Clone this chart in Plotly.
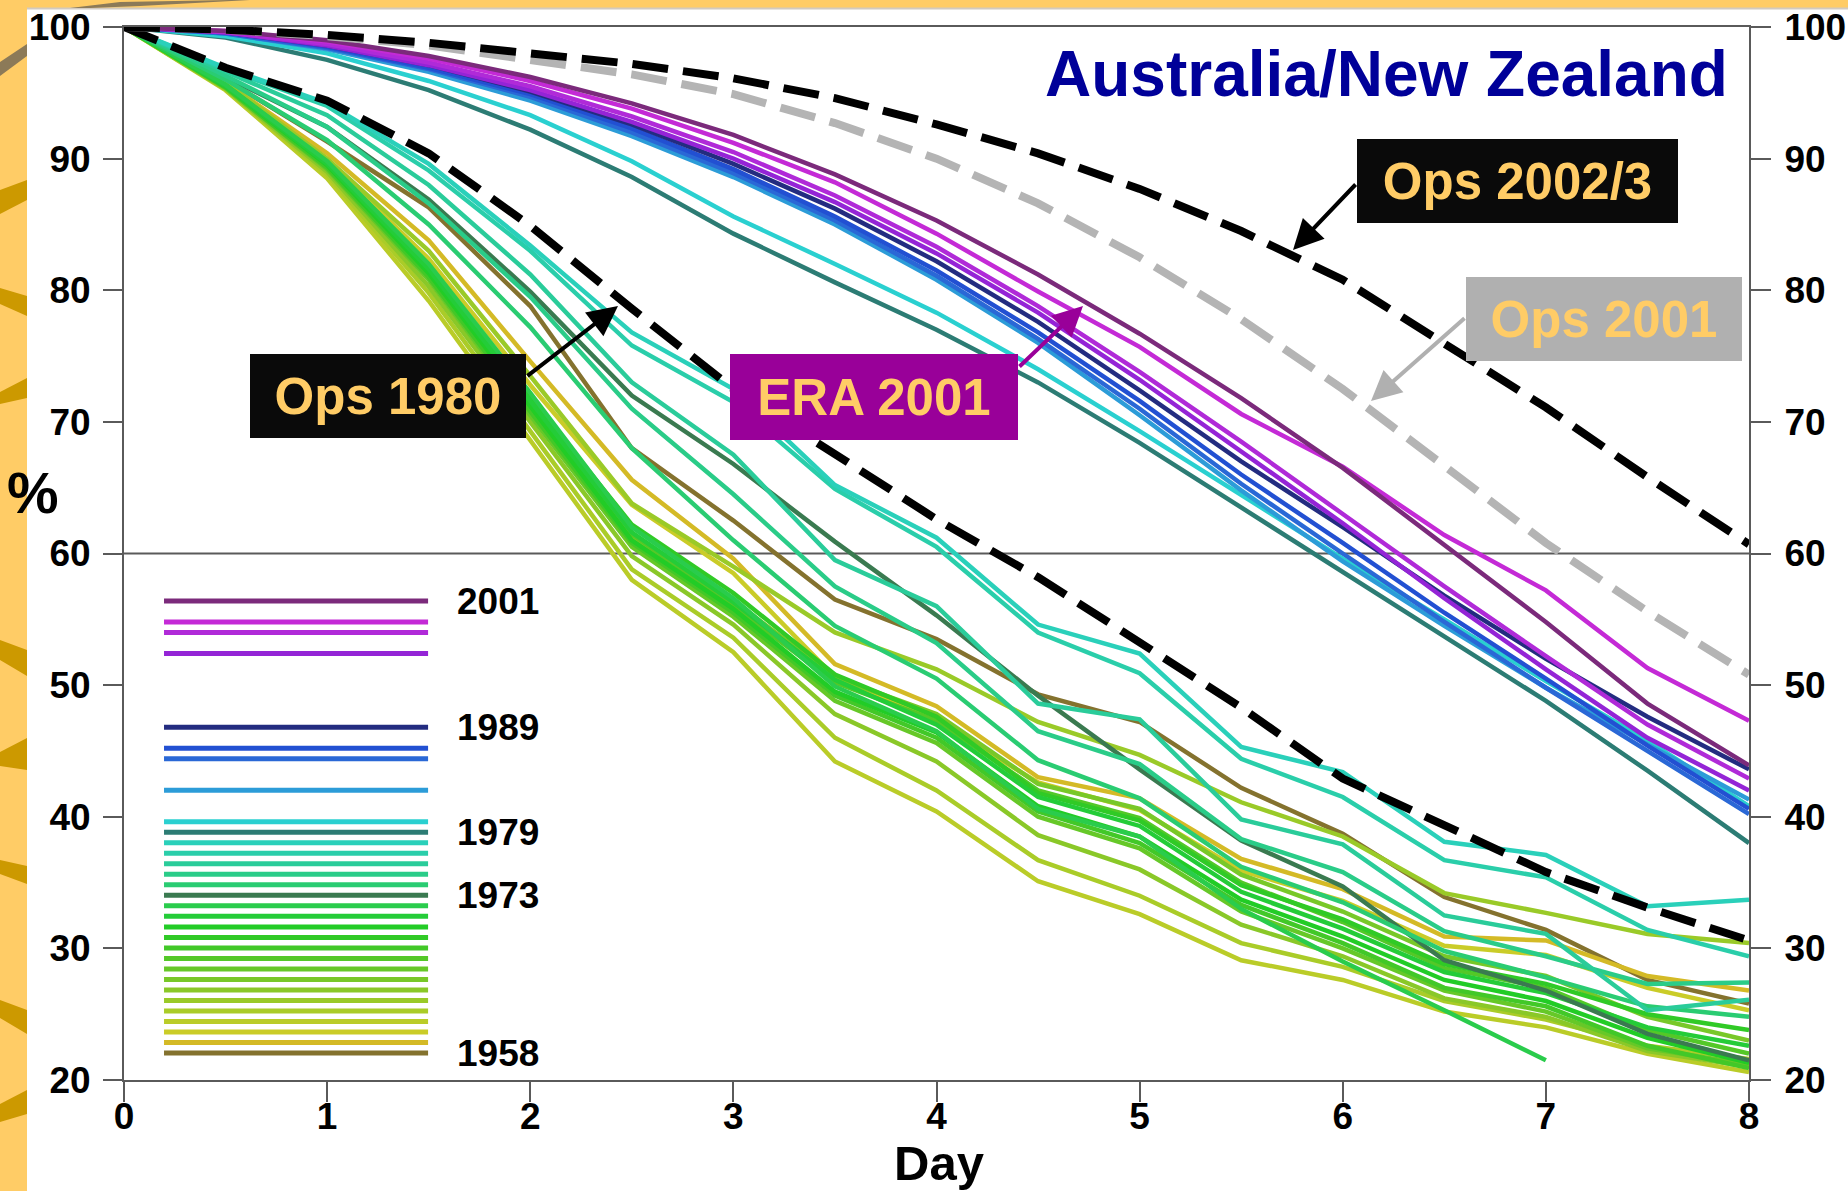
import plotly.graph_objects as go

# ---------------- data ----------------
days = [0, 0.5, 1, 1.5, 2, 2.5, 3, 3.5, 4, 4.5, 5, 5.5, 6, 6.5, 7, 7.5, 8]

y2001 = [100, 99.7, 99.0, 97.8, 96.2, 94.2, 91.8, 88.8, 85.3, 81.2, 76.7, 71.8, 66.5, 60.6, 54.8, 48.6, 43.9]
y1999 = [100, 99.7, 98.9, 97.6, 95.9, 93.8, 91.2, 88.2, 84.3, 79.9, 75.7, 70.6, 66.6, 61.4, 57.2, 51.3, 47.3]
y1998 = [100, 99.6, 98.7, 97.3, 95.5, 93.2, 90.5, 87.2, 83.3, 78.8, 73.8, 68.5, 63.0, 57.5, 52.2, 47.0, 42.9]
y1996 = [100, 99.6, 98.6, 97.1, 95.2, 92.8, 90.0, 86.7, 82.8, 78.3, 73.2, 67.8, 62.3, 56.6, 51.2, 46.0, 42.0]
y1989 = [100, 99.6, 98.6, 97.1, 95.1, 92.6, 89.6, 86.2, 82.2, 77.6, 72.4, 67.0, 62.0, 56.8, 52.0, 47.6, 43.6]
y1987 = [100, 99.6, 98.5, 96.9, 94.9, 92.3, 89.2, 85.6, 81.5, 76.8, 71.6, 66.0, 60.8, 55.5, 50.5, 45.4, 40.6]
y1986 = [100, 99.5, 98.4, 96.8, 94.7, 92.0, 88.9, 85.3, 81.1, 76.3, 71.0, 65.3, 60.0, 54.8, 49.8, 45.0, 40.2]
y1983 = [100, 99.5, 98.3, 96.6, 94.4, 91.7, 88.6, 85.0, 80.8, 76.0, 70.5, 64.8, 59.4, 54.5, 49.8, 45.5, 41.3]
y1980 = [100, 99.3, 98.0, 95.9, 93.3, 89.8, 85.6, 82.0, 78.3, 74.0, 69.3, 64.5, 59.6, 55.0, 50.3, 45.8, 40.8]
y1979 = [100, 99.2, 97.5, 95.2, 92.2, 88.6, 84.3, 80.6, 77.0, 73.0, 68.4, 63.5, 58.6, 53.8, 48.8, 43.5, 38.0]
y1978 = [100, 96.9, 94.2, 89.6, 83.4, 76.8, 72.5, 65.2, 61.2, 54.6, 52.4, 45.3, 43.4, 38.1, 37.1, 33.2, 33.7]
y1977 = [100, 96.8, 94.0, 89.1, 83.0, 75.8, 71.5, 64.9, 60.5, 54.0, 50.9, 44.4, 41.5, 36.7, 35.4, 31.4, 29.4]
y1976 = [100, 96.6, 93.3, 88.0, 81.2, 73.0, 67.5, 59.5, 56.0, 48.6, 47.4, 39.8, 37.9, 32.5, 31.1, 25.3, 26.1]
y1975 = [100, 96.3, 92.4, 86.6, 79.5, 71.0, 64.5, 57.5, 53.2, 46.5, 44.0, 38.3, 35.8, 31.3, 29.4, 27.3, 27.4]
y1974 = [100, 96.0, 91.4, 85.0, 77.2, 68.0, 61.0, 54.5, 50.5, 44.3, 41.4, 36.2, 33.5, 29.8, 27.8, 25.6, 24.8]
y1973 = [100, 96.2, 92.4, 86.9, 79.9, 72.0, 66.8, 60.9, 55.3, 49.2, 43.6, 38.2, 34.7, 29.1, 26.8, 23.5, 21.5]
y1972 = [100, 95.6, 89.8, 82.0, 72.2, 62.0, 56.6, 49.9, 46.5, 40.6, 38.5, 33.0, 29.0, 25.3, 21.5, None, None]
y1971 = [100, 95.5, 89.6, 81.6, 71.6, 61.6, 56.3, 50.4, 47.0, 41.5, 39.3, 34.3, 31.5, 28.2, 26.6, 24.0, 22.6]
y1970 = [100, 95.5, 89.5, 81.3, 71.2, 61.0, 55.8, 49.5, 46.4, 40.8, 38.5, 33.7, 30.9, 27.6, 26.0, 23.2, 21.3]
y1969 = [100, 95.6, 89.7, 81.8, 71.8, 62.2, 57.0, 50.8, 47.6, 41.8, 39.7, 34.8, 32.2, 28.8, 27.3, 25.0, 23.8]
y1968 = [100, 95.4, 89.3, 81.0, 70.8, 60.8, 55.5, 49.2, 46.0, 40.4, 38.0, 33.3, 30.4, 27.0, 25.6, 22.6, 20.9]
y1967 = [100, 95.5, 89.6, 81.5, 71.5, 61.5, 56.0, 50.2, 47.3, 42.0, 39.9, 35.0, 32.0, 28.5, 27.0, 23.8, 22.0]
y1966 = [100, 95.4, 89.2, 80.8, 70.5, 60.5, 55.2, 48.8, 45.6, 40.0, 37.6, 32.8, 30.0, 26.8, 25.2, 22.4, 21.2]
y1965 = [100, 95.5, 89.4, 81.2, 71.0, 61.2, 56.4, 50.6, 47.8, 42.5, 40.6, 35.6, 32.8, 29.4, 27.9, 24.8, 23.0]
y1964 = [100, 95.3, 89.0, 80.3, 70.0, 59.8, 54.6, 47.8, 44.2, 38.6, 36.0, 31.8, 29.4, 26.2, 24.8, 22.2, 21.0]
y1963 = [100, 95.8, 90.0, 83.0, 73.5, 63.8, 59.0, 54.0, 51.2, 47.2, 44.7, 41.1, 38.5, 34.2, 32.7, 31.1, 30.4]
y1962 = [100, 95.3, 88.8, 79.8, 69.3, 58.8, 53.6, 46.0, 42.0, 36.7, 34.0, 30.4, 28.6, 26.0, 24.6, 22.6, 21.6]
y1961 = [100, 95.2, 88.5, 79.2, 68.6, 58.0, 52.5, 44.2, 40.4, 35.1, 32.6, 29.1, 27.6, 25.2, 24.0, 22.0, 20.6]
y1960 = [100, 95.7, 89.8, 82.4, 72.8, 63.7, 58.5, 50.6, 47.3, 42.6, 40.5, 35.9, 33.6, 30.2, 29.5, 27.0, 25.3]
y1959 = [100, 95.8, 90.4, 83.8, 74.6, 65.6, 59.6, 51.6, 48.4, 43.0, 41.4, 36.8, 34.5, 30.9, 30.6, 27.9, 26.8]
y1958 = [100, 96.0, 91.3, 86.3, 78.8, 68.0, 62.5, 56.5, 53.5, 49.3, 47.2, 42.2, 38.7, 33.9, 31.4, 27.6, 25.8]

ops_2002_3 = [100, 99.8, 99.4, 98.8, 98.0, 97.2, 96.1, 94.6, 92.6, 90.4, 87.7, 84.5, 80.8, 76.0, 71.1, 65.8, 60.7]
ops_2001 = [100, 99.8, 99.3, 98.6, 97.5, 96.4, 94.9, 92.7, 90.0, 86.6, 82.5, 77.8, 72.5, 66.7, 60.8, 55.6, 50.8]
ops_1980 = [100, 96.9, 94.4, 90.4, 84.9, 78.6, 72.5, 67.6, 62.6, 58.2, 53.2, 48.3, 42.9, 39.3, 35.8, 33.1, 30.6]

legend_years = [2001, 1999, 1998, 1996, 1989, 1987, 1986, 1983] + list(range(1980, 1957, -1))
legend_labels = ["2001", "1989", "1979", "1973", "1958"]
x_ticks = [0, 1, 2, 3, 4, 5, 6, 7, 8]
y_ticks = [20, 30, 40, 50, 60, 70, 80, 90, 100]

# ---------------- styles ----------------
year_colors = {
    2001: "#7B2A7B", 1999: "#C42AD6", 1998: "#B02AD8", 1996: "#9424D6",
    1989: "#232C80", 1987: "#2250D2", 1986: "#2A68D6", 1983: "#2C9CD8",
    1980: "#2AD0D0", 1979: "#2C7C74", 1978: "#2AD0BA", 1977: "#2ACEAA",
    1976: "#2ACC9A", 1975: "#2ACC88", 1974: "#2ACC72", 1973: "#3A7A50",
    1972: "#2ACC4C", 1971: "#24CC38", 1970: "#22CC26", 1969: "#30CA26",
    1968: "#42C828", 1967: "#54C828", 1966: "#66C828", 1965: "#78C828",
    1964: "#8AC828", 1963: "#9ACA28", 1962: "#AACC28", 1961: "#BACC28",
    1960: "#CACC28", 1959: "#D4BA26", 1958: "#84722E",
}
year_series = {
    2001: y2001, 1999: y1999, 1998: y1998, 1996: y1996, 1989: y1989, 1987: y1987,
    1986: y1986, 1983: y1983, 1980: y1980, 1979: y1979, 1978: y1978, 1977: y1977,
    1976: y1976, 1975: y1975, 1974: y1974, 1973: y1973, 1972: y1972, 1971: y1971,
    1970: y1970, 1969: y1969, 1968: y1968, 1967: y1967, 1966: y1966, 1965: y1965,
    1964: y1964, 1963: y1963, 1962: y1962, 1961: y1961, 1960: y1960, 1959: y1959,
    1958: y1958,
}

FONT = "Liberation Sans, Arial, Helvetica, sans-serif"
ORANGE = "#FFCC66"
GOLD = "#CC9900"
AX = "#5a5a5a"

# pixel geometry of plot area
X0, X1 = 124, 1749
Y0, Y1 = 27, 1080
W, H = 1848, 1191


def px(x):
    return (x - X0) / (X1 - X0)


def py(y):
    return (Y1 - y) / (Y1 - Y0)


def dx(x):
    return (x - X0) / (X1 - X0) * 8


def dy(y):
    return 100 - (y - Y0) / (Y1 - Y0) * 80


fig = go.Figure()

# colored yearly curves (oldest first)
for yr in sorted(year_series.keys()):
    fig.add_trace(go.Scatter(x=days, y=year_series[yr], mode="lines",
                             line=dict(color=year_colors[yr], width=4.5),
                             hoverinfo="skip", connectgaps=False))

# operational dashed curves
fig.add_trace(go.Scatter(x=days, y=ops_1980, mode="lines",
                         line=dict(color="black", width=8, dash="36px,15px")))
fig.add_trace(go.Scatter(x=days, y=ops_2001, mode="lines",
                         line=dict(color="#B4B4B4", width=8, dash="36px,15px")))
fig.add_trace(go.Scatter(x=days, y=ops_2002_3, mode="lines",
                         line=dict(color="black", width=8, dash="36px,15px")))

# in-plot colour key
LEG_X = [0.197, 1.497]
LEG_TOP, LEG_STEP = 56.39, 0.7986
for yr in legend_years:
    ly = LEG_TOP - (2001 - yr) * LEG_STEP
    fig.add_trace(go.Scatter(x=LEG_X, y=[ly, ly], mode="lines",
                             line=dict(color=year_colors[yr], width=5),
                             hoverinfo="skip"))

# invisible trace for the right-hand axis
fig.add_trace(go.Scatter(x=[0], y=[20], yaxis="y2", mode="markers",
                         marker=dict(opacity=0), hoverinfo="skip"))

annotations = []
for lab in legend_labels:
    yr = int(lab)
    ly = LEG_TOP - (2001 - yr) * LEG_STEP
    annotations.append(dict(x=1.63, y=ly, xref="x", yref="y", text=lab,
                            showarrow=False, xanchor="left", yanchor="middle",
                            font=dict(family=FONT, size=37, color="black", weight="bold")))

# title
annotations.append(dict(x=px(1386), y=py(74), xref="paper", yref="paper",
                        text="Australia/New Zealand", showarrow=False,
                        xanchor="center", yanchor="middle",
                        font=dict(family=FONT, size=64, color="#000099", weight="bold")))
# axis titles
annotations.append(dict(x=px(939), y=py(1163), xref="paper", yref="paper",
                        text="Day", showarrow=False, xanchor="center", yanchor="middle",
                        font=dict(family=FONT, size=49, color="black", weight="bold")))
annotations.append(dict(x=px(33), y=py(492), xref="paper", yref="paper",
                        text="%", showarrow=False, xanchor="center", yanchor="middle",
                        font=dict(family=FONT, size=58, color="black", weight="bold")))

# labelled boxes: (text, bg, left, top, right, bottom)
boxes = [
    ("Ops 2002/3", "#0A0A0A", 1357, 139, 1678, 223),
    ("Ops 2001", "#B0B0B0", 1466, 277, 1742, 361),
    ("ERA 2001", "#990099", 730, 354, 1018, 440),
    ("Ops 1980", "#0A0A0A", 250, 354, 526, 438),
]
for txt, bg, l, t, r, b in boxes:
    annotations.append(dict(x=px((l + r) / 2), y=py((t + b) / 2), xref="paper", yref="paper",
                            text=txt, showarrow=False, xanchor="center", yanchor="middle",
                            width=r - l, height=b - t, bgcolor=bg, borderpad=0, borderwidth=0,
                            font=dict(family=FONT, size=51, color=ORANGE, weight="bold")))

# arrows: (tail px, tip px, colour)
arrows = [
    ((1357, 183), (1293, 250), "black"),
    ((1466, 317), (1371, 401), "#B0B0B0"),
    ((1018, 368), (1083, 306), "#990099"),
    ((526, 377), (618, 306), "black"),
]
for (tx, ty), (hx, hy), c in arrows:
    annotations.append(dict(x=dx(hx), y=dy(hy), xref="x", yref="y",
                            ax=dx(tx), ay=dy(ty), axref="x", ayref="y",
                            text="", showarrow=True, arrowhead=2, arrowsize=1.5,
                            arrowwidth=4, arrowcolor=c))

# background decorations
shapes = [
    dict(type="rect", xref="paper", yref="paper", x0=px(27), x1=px(W), y0=py(H), y1=py(9),
         fillcolor="white", line=dict(width=0), layer="below"),
    dict(type="line", xref="paper", yref="paper", x0=px(27), x1=px(W), y0=py(8.5), y1=py(8.5),
         line=dict(color="#D2CAC0", width=2), layer="below"),
    dict(type="line", xref="x", yref="y", x0=0, x1=8, y0=60, y1=60,
         line=dict(color=AX, width=2), layer="below"),
]


def poly(points, color):
    path = "M " + " L ".join(f"{px(x):.5f},{py(y):.5f}" for x, y in points) + " Z"
    return dict(type="path", xref="paper", yref="paper", path=path,
                fillcolor=color, line=dict(width=0), layer="below")


# brush strokes on the slide's orange border (kept outside the white panel)
shapes.append(poly([(0, 62), (27, 44), (27, 56), (0, 76)], "#8C7A58"))
shapes.append(poly([(70, 8), (120, 2), (230, 0), (250, 0), (140, 6), (90, 8)], "#8C7A58"))
swooshes = [
    [(0, 190), (27, 180), (27, 200), (0, 214)],
    [(0, 288), (27, 296), (27, 316), (0, 304)],
    [(0, 392), (27, 378), (27, 398), (0, 404)],
    [(0, 640), (27, 650), (27, 676), (0, 660)],
    [(0, 752), (27, 738), (27, 770), (0, 766)],
    [(0, 860), (27, 866), (27, 884), (0, 874)],
    [(0, 1000), (27, 1010), (27, 1034), (0, 1018)],
    [(0, 1104), (27, 1090), (27, 1114), (0, 1122)],
]
for s in swooshes:
    shapes.append(poly(s, GOLD))

tickfont = dict(family=FONT, size=37, color="black", weight="bold")
fig.update_layout(
    width=W, height=H, autosize=False,
    margin=dict(l=X0, r=W - X1, t=Y0, b=H - Y1, pad=0, autoexpand=False),
    paper_bgcolor=ORANGE, plot_bgcolor="white", showlegend=False,
    xaxis=dict(range=[0, 8], tickvals=x_ticks, showline=True, linecolor=AX, linewidth=2,
               mirror=True, ticks="outside", ticklen=20, tickwidth=2, tickcolor=AX,
               showgrid=False, zeroline=False, tickfont=tickfont, ticklabelstandoff=-17,
               automargin=False),
    yaxis=dict(range=[20, 100], tickvals=y_ticks, showline=True, linecolor=AX, linewidth=2,
               ticks="outside", ticklen=19, tickwidth=2, tickcolor=AX,
               showgrid=False, zeroline=False, tickfont=tickfont, ticklabelstandoff=5,
               automargin=False),
    yaxis2=dict(range=[20, 100], tickvals=y_ticks, overlaying="y", side="right",
                showline=True, linecolor=AX, linewidth=2,
                ticks="outside", ticklen=20, tickwidth=2, tickcolor=AX,
                showgrid=False, zeroline=False, tickfont=tickfont, ticklabelstandoff=6,
                automargin=False),
    annotations=annotations,
    shapes=shapes,
)

fig.write_html("out.html", config={"displayModeBar": False},
               post_script="document.body.style.margin='0';document.body.style.padding='0';document.body.style.overflow='hidden';")
